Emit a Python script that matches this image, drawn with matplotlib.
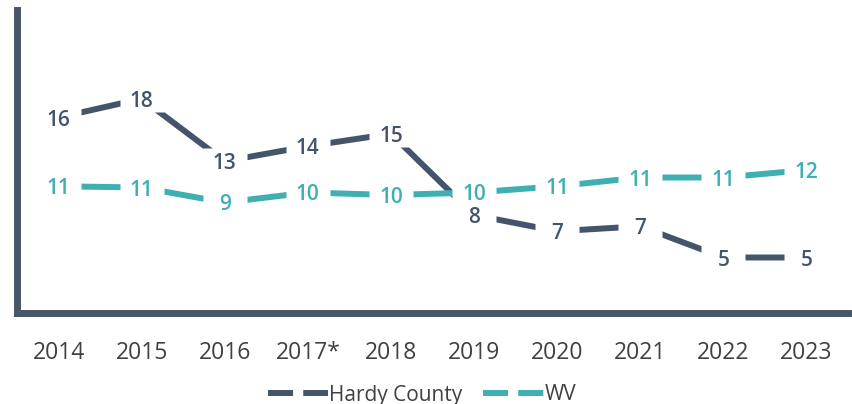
import matplotlib
matplotlib.use("Agg")
import matplotlib.pyplot as plt
from matplotlib.lines import Line2D
from matplotlib.path import Path

# Chart data (line positions, labels as printed)
years = ["2014", "2015", "2016", "2017*", "2018", "2019", "2020", "2021", "2022", "2023"]
hardy = [16.2, 17.7, 12.7, 13.9, 14.9, 8.4, 7.1, 7.5, 5.0, 5.0]
wv = [10.7, 10.6, 9.4, 10.2, 10.0, 10.2, 10.7, 11.4, 11.4, 12.0]
hardy_labels = ["16", "18", "13", "14", "15", "8", "7", "7", "5", "5"]
wv_labels = ["11", "11", "9", "10", "10", "10", "11", "11", "11", "12"]

hardy_col = "#44546A"
wv_col = "#3FAFB1"
spine_col = "#475767"
text_col = "#404040"

plt.rcParams['font.family'] = ['Open Sans', 'DejaVu Sans']

fig = plt.figure(figsize=(8.53, 4.04), dpi=100, facecolor="white")
ax = fig.add_axes([17/853, (404-313)/404, (848-17)/853, (313-10)/404])

x = list(range(len(years)))
ax.plot(x, hardy, color=hardy_col, lw=4.3, solid_capstyle="butt", zorder=2)
ax.plot(x, wv, color=wv_col, lw=4.3, solid_capstyle="butt", zorder=2)

# white label boxes that hide the line around each point
box = Path([(-1, -0.59), (1, -0.59), (1, 0.59), (-1, 0.59), (-1, -0.59)],
           [Path.MOVETO, Path.LINETO, Path.LINETO, Path.LINETO, Path.CLOSEPOLY])
for vals in (hardy, wv):
    ax.plot(x, vals, ls="none", marker=box, ms=31.5, mfc="white", mec="none", zorder=3)

for i in x:
    ax.text(i, hardy[i], hardy_labels[i], ha="center", va="center_baseline", fontsize=15,
            fontweight="semibold", color=hardy_col, zorder=4)
    ax.text(i, wv[i], wv_labels[i], ha="center", va="center_baseline", fontsize=15,
            fontweight="semibold", color=wv_col, zorder=4)

ax.set_xlim(-0.5, len(years) - 0.5)
ax.set_ylim(0.56, 24.8)
ax.set_xticks(x)
ax.set_xticklabels(years, fontsize=16.5, color=text_col)
ax.set_yticks([])
ax.tick_params(axis="x", length=0, pad=20)
for s in ["top", "right"]:
    ax.spines[s].set_visible(False)
for s in ["left", "bottom"]:
    ax.spines[s].set_color(spine_col)
    ax.spines[s].set_linewidth(5)
    ax.spines[s].set_capstyle("projecting")

handles = [Line2D([], [], color=hardy_col, lw=4.3, ls=(0, (4.2, 1.7))),
           Line2D([], [], color=wv_col, lw=4.3, ls=(0, (4.2, 1.7)))]
fig.legend(handles, ["Hardy County", "WV"], loc="center",
           bbox_to_anchor=(422/853, 1 - 395/404),
           ncol=2, frameon=False, fontsize=15, handlelength=2.9, handletextpad=0.05,
           columnspacing=1.0, labelcolor=text_col)

fig.savefig("out.png", dpi=100, facecolor="white")
